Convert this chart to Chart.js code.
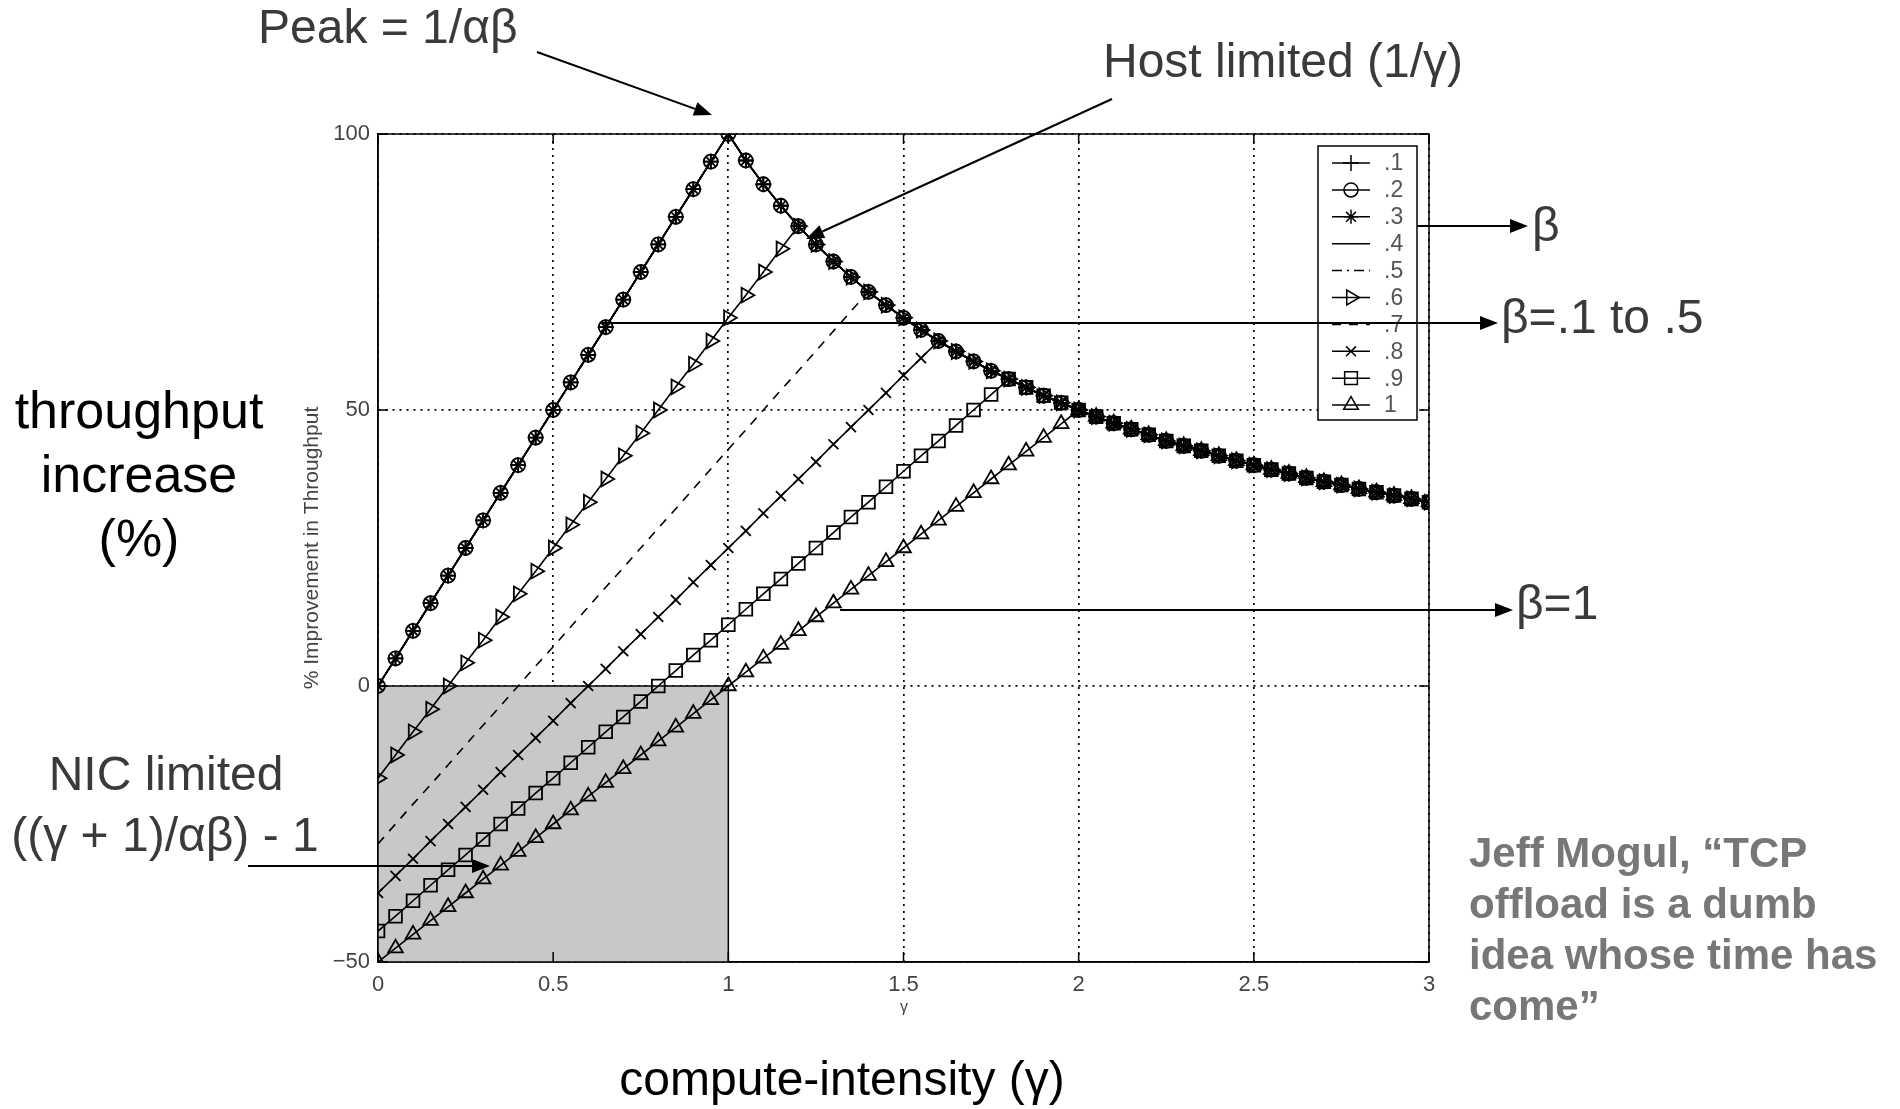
<!DOCTYPE html>
<html>
<head>
<meta charset="utf-8">
<script src="https://cdn.jsdelivr.net/npm/chart.js@4/dist/chart.umd.min.js"></script>
<style>
  html, body { margin: 0; padding: 0; background: #fff; }
  #wrap { width: 1900px; height: 1109px; }
</style>
</head>
<body>
<div id="wrap"><canvas id="chart" width="1900" height="1109"></canvas></div>
<script>
// compute-intensity (gamma) sample points
const gamma = [0, 0.05, 0.1, 0.15, 0.2, 0.25, 0.3, 0.35, 0.4, 0.45, 0.5, 0.55, 0.6, 0.65, 0.7, 0.75, 0.8, 0.85, 0.9, 0.95,
  1, 1.05, 1.1, 1.15, 1.2, 1.25, 1.3, 1.35, 1.4, 1.45, 1.5, 1.55, 1.6, 1.65, 1.7, 1.75, 1.8, 1.85, 1.9, 1.95,
  2, 2.05, 2.1, 2.15, 2.2, 2.25, 2.3, 2.35, 2.4, 2.45, 2.5, 2.55, 2.6, 2.65, 2.7, 2.75, 2.8, 2.85, 2.9, 2.95, 3];

// % improvement in throughput
// beta = .1 .. .5 all sit on the same curve
const lowBeta = [0, 5, 10, 15, 20, 25, 30, 35, 40, 45, 50, 55, 60, 65, 70, 75, 80, 85, 90, 95,
  100, 95.2, 90.9, 87.0, 83.3, 80.0, 76.9, 74.1, 71.4, 69.0, 66.7, 64.5, 62.5, 60.6, 58.8, 57.1, 55.6, 54.1, 52.6, 51.3,
  50.0, 48.8, 47.6, 46.5, 45.5, 44.4, 43.5, 42.6, 41.7, 40.8, 40.0, 39.2, 38.5, 37.7, 37.0, 36.4, 35.7, 35.1, 34.5, 33.9, 33.3];
const beta06 = [-16.7, -12.5, -8.3, -4.2, 0, 4.2, 8.3, 12.5, 16.7, 20.8, 25.0, 29.2, 33.3, 37.5, 41.7, 45.8, 50.0, 54.2, 58.3, 62.5,
  66.7, 70.8, 75.0, 79.2, 83.3, 80.0, 76.9, 74.1, 71.4, 69.0, 66.7, 64.5, 62.5, 60.6, 58.8, 57.1, 55.6, 54.1, 52.6, 51.3,
  50.0, 48.8, 47.6, 46.5, 45.5, 44.4, 43.5, 42.6, 41.7, 40.8, 40.0, 39.2, 38.5, 37.7, 37.0, 36.4, 35.7, 35.1, 34.5, 33.9, 33.3];
const beta07 = [-28.6, -25.0, -21.4, -17.9, -14.3, -10.7, -7.1, -3.6, 0, 3.6, 7.1, 10.7, 14.3, 17.9, 21.4, 25.0, 28.6, 32.1, 35.7, 39.3,
  42.9, 46.4, 50.0, 53.6, 57.1, 60.7, 64.3, 67.9, 71.4, 69.0, 66.7, 64.5, 62.5, 60.6, 58.8, 57.1, 55.6, 54.1, 52.6, 51.3,
  50.0, 48.8, 47.6, 46.5, 45.5, 44.4, 43.5, 42.6, 41.7, 40.8, 40.0, 39.2, 38.5, 37.7, 37.0, 36.4, 35.7, 35.1, 34.5, 33.9, 33.3];
const beta08 = [-37.5, -34.4, -31.3, -28.1, -25.0, -21.9, -18.8, -15.6, -12.5, -9.4, -6.3, -3.1, 0, 3.1, 6.3, 9.4, 12.5, 15.6, 18.8, 21.9,
  25.0, 28.1, 31.3, 34.4, 37.5, 40.6, 43.8, 46.9, 50.0, 53.1, 56.3, 59.4, 62.5, 60.6, 58.8, 57.1, 55.6, 54.1, 52.6, 51.3,
  50.0, 48.8, 47.6, 46.5, 45.5, 44.4, 43.5, 42.6, 41.7, 40.8, 40.0, 39.2, 38.5, 37.7, 37.0, 36.4, 35.7, 35.1, 34.5, 33.9, 33.3];
const beta09 = [-44.4, -41.7, -38.9, -36.1, -33.3, -30.6, -27.8, -25.0, -22.2, -19.4, -16.7, -13.9, -11.1, -8.3, -5.6, -2.8, 0, 2.8, 5.6, 8.3,
  11.1, 13.9, 16.7, 19.4, 22.2, 25.0, 27.8, 30.6, 33.3, 36.1, 38.9, 41.7, 44.4, 47.2, 50.0, 52.8, 55.6, 54.1, 52.6, 51.3,
  50.0, 48.8, 47.6, 46.5, 45.5, 44.4, 43.5, 42.6, 41.7, 40.8, 40.0, 39.2, 38.5, 37.7, 37.0, 36.4, 35.7, 35.1, 34.5, 33.9, 33.3];
const beta10 = [-50, -47.5, -45, -42.5, -40, -37.5, -35, -32.5, -30, -27.5, -25, -22.5, -20, -17.5, -15, -12.5, -10, -7.5, -5, -2.5,
  0, 2.5, 5, 7.5, 10, 12.5, 15, 17.5, 20, 22.5, 25, 27.5, 30, 32.5, 35, 37.5, 40, 42.5, 45, 47.5,
  50, 48.8, 47.6, 46.5, 45.5, 44.4, 43.5, 42.6, 41.7, 40.8, 40.0, 39.2, 38.5, 37.7, 37.0, 36.4, 35.7, 35.1, 34.5, 33.9, 33.3];

const betaLabels = ['.1', '.2', '.3', '.4', '.5', '.6', '.7', '.8', '.9', '1'];
const betaValues = [lowBeta, lowBeta, lowBeta, lowBeta, lowBeta, beta06, beta07, beta08, beta09, beta10];

const xTicks = [0, 0.5, 1, 1.5, 2, 2.5, 3];
const yTicks = [-50, 0, 50, 100];

// shaded NIC-limited region: [xMin, xMax, yMin, yMax]
const nicRegion = [0, 1, -50, 0];

// MATLAB-ish line specs for each beta
const styles = [
  { point: 'cross', r: 8, dash: [] },
  { point: 'circle', r: 7, dash: [] },
  { point: 'star', r: 7, dash: [] },
  { point: false, r: 0, dash: [] },
  { point: false, r: 0, dash: [10, 5, 2, 5] },
  { point: 'triangle', r: 8.5, rot: 90, dash: [] },
  { point: false, r: 0, dash: [9, 8] },
  { point: 'crossRot', r: 7, dash: [] },
  { point: 'rect', r: 9, dash: [] },
  { point: 'triangle', r: 8.5, rot: 0, dash: [] }
];

const datasets = betaLabels.map((lbl, i) => {
  const s = styles[i];
  return {
    label: lbl,
    data: gamma.map((g, k) => ({ x: g, y: betaValues[i][k] })),
    borderColor: '#000',
    borderWidth: 1.6,
    borderDash: s.dash,
    pointStyle: s.point,
    pointRadius: s.r,
    pointRotation: s.rot || 0,
    pointBorderColor: '#000',
    pointBorderWidth: 1.8,
    pointBackgroundColor: 'rgba(0,0,0,0)',
    fill: false,
    tension: 0
  };
});

function arrow(ctx, x1, y1, x2, y2) {
  const a = Math.atan2(y2 - y1, x2 - x1);
  const len = 18, w = 7;
  ctx.save();
  ctx.strokeStyle = '#000';
  ctx.fillStyle = '#000';
  ctx.lineWidth = 2;
  ctx.beginPath();
  ctx.moveTo(x1, y1);
  ctx.lineTo(x2 - len * Math.cos(a), y2 - len * Math.sin(a));
  ctx.stroke();
  ctx.beginPath();
  ctx.moveTo(x2, y2);
  ctx.lineTo(x2 - len * Math.cos(a) + w * Math.sin(a), y2 - len * Math.sin(a) - w * Math.cos(a));
  ctx.lineTo(x2 - len * Math.cos(a) - w * Math.sin(a), y2 - len * Math.sin(a) + w * Math.cos(a));
  ctx.closePath();
  ctx.fill();
  ctx.restore();
}

function text(ctx, str, x, y, font, color, align) {
  ctx.font = font;
  ctx.fillStyle = color;
  ctx.textAlign = align || 'left';
  ctx.textBaseline = 'middle';
  ctx.fillText(str, x, y);
}

const matlabPlugin = {
  id: 'matlab',
  beforeDatasetsDraw(chart) {
    const { ctx, scales: { x, y } } = chart;
    const x0 = x.getPixelForValue(nicRegion[0]), x1 = x.getPixelForValue(nicRegion[1]);
    const y0 = y.getPixelForValue(nicRegion[2]), y1 = y.getPixelForValue(nicRegion[3]);
    ctx.save();
    ctx.fillStyle = '#c8c8c8';
    ctx.fillRect(x0, y1, x1 - x0, y0 - y1);
    ctx.strokeStyle = '#000';
    ctx.lineWidth = 1.5;
    ctx.beginPath();
    ctx.moveTo(x0, y1); ctx.lineTo(x1, y1); ctx.lineTo(x1, y0);
    ctx.stroke();
    ctx.restore();
  },
  afterDatasetsDraw(chart) {
    const { ctx, chartArea: a, scales: { x, y } } = chart;
    ctx.save();
    // axes box + inward ticks
    ctx.strokeStyle = '#000';
    ctx.lineWidth = 1.5;
    ctx.strokeRect(a.left, a.top, a.right - a.left, a.bottom - a.top);
    ctx.beginPath();
    xTicks.forEach(v => {
      const px = x.getPixelForValue(v);
      ctx.moveTo(px, a.bottom); ctx.lineTo(px, a.bottom - 10);
      ctx.moveTo(px, a.top); ctx.lineTo(px, a.top + 10);
    });
    yTicks.forEach(v => {
      const py = y.getPixelForValue(v);
      ctx.moveTo(a.left, py); ctx.lineTo(a.left + 10, py);
      ctx.moveTo(a.right, py); ctx.lineTo(a.right - 10, py);
    });
    ctx.stroke();

    // legend box
    const lx = 1318, ly = 146, lw = 99, lh = 274, step = 26.9;
    ctx.fillStyle = '#fff';
    ctx.fillRect(lx, ly, lw, lh);
    ctx.strokeRect(lx, ly, lw, lh);
    chart.data.datasets.forEach((ds, i) => {
      const cy = ly + 17 + i * step;
      ctx.save();
      ctx.strokeStyle = '#000';
      ctx.lineWidth = 1.5;
      ctx.setLineDash(ds.borderDash);
      ctx.beginPath();
      ctx.moveTo(lx + 14, cy); ctx.lineTo(lx + 52, cy);
      ctx.stroke();
      ctx.restore();
      if (ds.pointStyle) {
        ctx.save();
        ctx.strokeStyle = '#000';
        ctx.fillStyle = 'rgba(0,0,0,0)';
        ctx.lineWidth = 1.5;
        Chart.helpers.drawPoint(ctx, {
          pointStyle: ds.pointStyle,
          radius: ds.pointRadius,
          rotation: ds.pointRotation,
          borderWidth: 1.5
        }, lx + 33, cy);
        ctx.restore();
      }
      text(ctx, ds.label, lx + 66, cy + 1, '23px "Liberation Sans"', '#555');
    });
    ctx.restore();
  },
  afterDraw(chart) {
    const { ctx } = chart;
    ctx.save();
    const big = '48px "Liberation Sans"';
    const dark = '#3a3a3a';
    // axis titles inside the figure
    ctx.save();
    ctx.translate(312, 548);
    ctx.rotate(-Math.PI / 2);
    text(ctx, '% Improvement in Throughput', 0, 0, '21px "Liberation Sans"', '#444', 'center');
    ctx.restore();
    text(ctx, 'γ', 904, 1008, '16px "Liberation Sans"', '#444', 'center');

    // slide annotations
    text(ctx, 'Peak = 1/αβ', 258, 30, big, dark);
    arrow(ctx, 537, 52, 712, 115);
    text(ctx, 'Host limited (1/γ)', 1103, 64, big, dark);
    arrow(ctx, 1112, 99, 806, 239);
    text(ctx, 'β', 1532, 228, big, dark);
    arrow(ctx, 1417, 226, 1528, 226);
    text(ctx, 'β=.1 to .5', 1501, 320, big, dark);
    arrow(ctx, 602, 323, 1498, 323);
    text(ctx, 'β=1', 1516, 606, big, dark);
    arrow(ctx, 840, 610, 1513, 610);

    ['throughput', 'increase', '(%)'].forEach((s, i) => {
      text(ctx, s, 139, 414 + i * 64, '52px "Liberation Sans"', '#000', 'center');
    });
    text(ctx, 'NIC limited', 166, 777, big, dark, 'center');
    text(ctx, '((γ + 1)/αβ) - 1', 165, 838, big, dark, 'center');
    arrow(ctx, 248, 866, 490, 866);

    ['Jeff Mogul, \u201CTCP', 'offload is a dumb', 'idea whose time has', 'come\u201D'].forEach((s, i) => {
      text(ctx, s, 1469, 855 + i * 51, 'bold 42px "Liberation Sans"', '#777');
    });
    text(ctx, 'compute-intensity (γ)', 842, 1082, big, '#000', 'center');
    ctx.restore();
  }
};

new Chart(document.getElementById('chart'), {
  type: 'line',
  data: { datasets },
  options: {
    responsive: false,
    animation: false,
    layout: { padding: { left: 0, top: 134, right: 471, bottom: 0 } },
    plugins: { legend: { display: false }, tooltip: { enabled: false } },
    scales: {
      x: {
        type: 'linear',
        min: 0, max: 3,
        afterFit: s => { s.height = 147; },
        afterBuildTicks: s => { s.ticks = xTicks.map(v => ({ value: v })); },
        grid: { color: '#000', lineWidth: 1.7, drawTicks: false },
        border: { display: true, color: '#000', width: 1.5, dash: [2, 5] },
        ticks: {
          color: '#444', padding: 10, font: { family: 'Liberation Sans', size: 22 },
          callback: v => String(v)
        }
      },
      y: {
        type: 'linear',
        min: -50, max: 100,
        afterFit: s => { s.width = 378; },
        afterBuildTicks: s => { s.ticks = yTicks.map(v => ({ value: v })); },
        grid: { color: '#000', lineWidth: 1.7, drawTicks: false },
        border: { display: true, color: '#000', width: 1.5, dash: [2, 5] },
        ticks: {
          color: '#444', padding: 8, font: { family: 'Liberation Sans', size: 22 },
          callback: v => (v < 0 ? '\u2212' + Math.abs(v) : String(v))
        }
      }
    }
  },
  plugins: [matlabPlugin]
});
</script>
</body>
</html>
